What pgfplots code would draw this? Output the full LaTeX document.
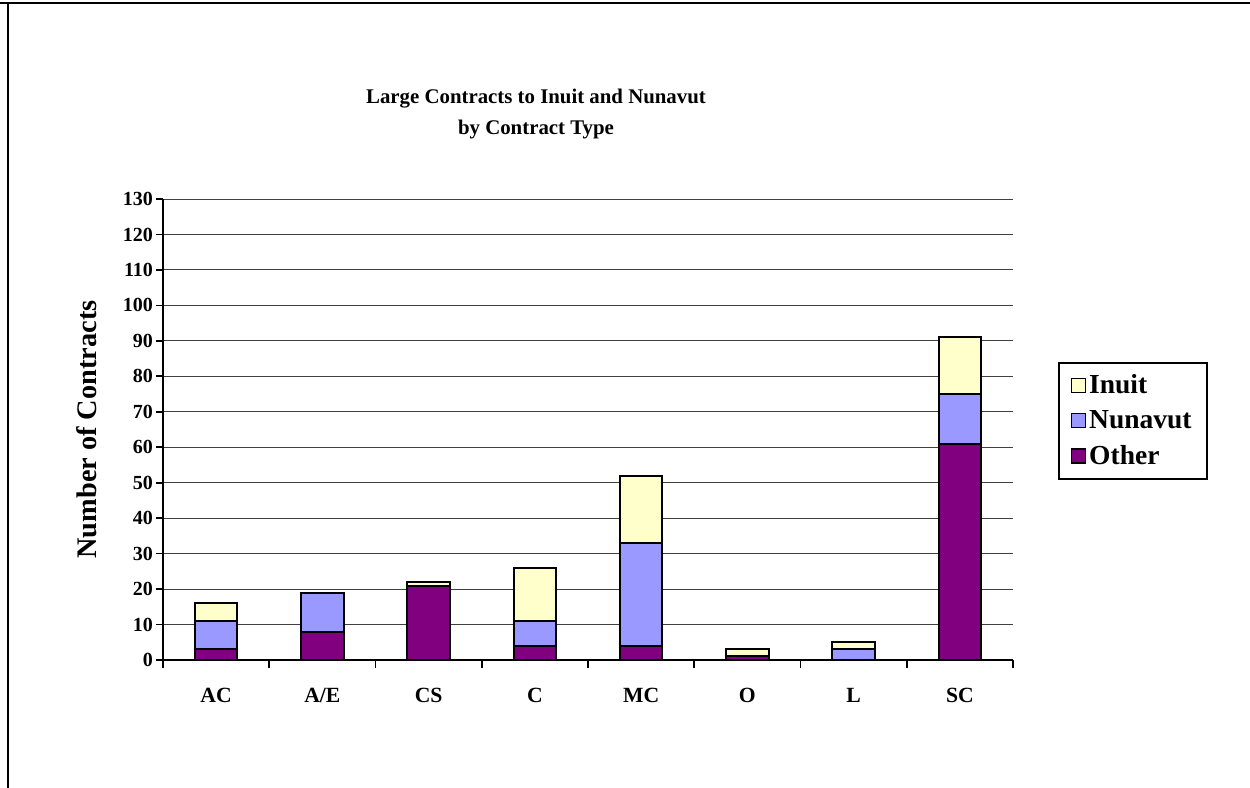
\documentclass[border=0pt]{standalone}
\usepackage{pgfplots}
\pgfplotsset{compat=1.18}
\usepackage{fontspec}
\setmainfont{Liberation Serif}

\definecolor{other}{HTML}{800080}
\definecolor{nunavut}{HTML}{9999FF}
\definecolor{inuit}{HTML}{FFFFCC}

\begin{document}
\begin{tikzpicture}[x=0.6pt,y=0.6pt]
% page = 1250x788 px, origin at lower left of the plot area (px 163,660)
\path[use as bounding box] (-163,-128) rectangle (1087,660);
\draw[line width=1.6pt] (-163,657) -- (1087,657);
\draw[line width=0.8pt] (-155,657) -- (-155,-128);

\node[font=\fontsize{12.5}{19}\selectfont\bfseries, align=center] at (373,546)
  {Large Contracts to Inuit and Nunavut\\by Contract Type};

\begin{axis}[
    at={(0,0)}, anchor=south west,
    scale only axis,
    width=510pt, height=276.6pt,
    ybar stacked,
    bar width=25.5pt,
    xmin=0.5, xmax=8.5,
    ymin=0, ymax=130,
    ytick={0,10,...,130},
    xtick={1,...,8},
    xticklabels={AC,A/E,CS,C,MC,O,L,SC},
    minor xtick={0.5,1.5,...,8.5},
    major x tick style={draw=none},
    minor x tick style={black, line width=1pt},
    y tick style={black, line width=1pt},
    tick align=outside,
    major tick length=4pt,
    minor tick length=4.5pt,
    axis x line*=bottom,
    axis y line*=left,
    axis line style={line width=1.2pt},
    ymajorgrids,
    grid style={black!75, line width=0.6pt},
    ticklabel style={font=\fontsize{12}{14}\selectfont\bfseries},
    yticklabel style={xshift=1.5pt},
    /pgf/number format/assume math mode=true,
    xticklabel style={yshift=-9.5pt, font=\fontsize{13}{15}\selectfont\bfseries},
    ylabel={Number of Contracts},
    ylabel style={font=\fontsize{17}{20}\selectfont\bfseries,
                  at={(axis description cs:-0.0894,0.5)}, anchor=center},
    legend style={at={(axis description cs:1.053,0.646)}, anchor=north west,
                  draw=black, line width=1.2pt,
                  font=\fontsize{16.5}{19}\selectfont\bfseries,
                  row sep=4.5pt, inner xsep=7pt, inner ysep=5pt,
                  cells={anchor=west}},
    legend image code/.code={\draw[#1, draw=black, line width=0.7pt]
                  (2.5pt,-4.2pt) rectangle (10.9pt,4.2pt);},
    reverse legend,
    every axis plot/.append style={draw=black, line width=1.2pt},
]
\addplot[fill=other] coordinates {(1,3) (2,8) (3,21) (4,4) (5,4) (6,1) (7,0) (8,61)};
\addplot[fill=nunavut] coordinates {(1,8) (2,11) (3,0) (4,7) (5,29) (6,0) (7,3) (8,14)};
\addplot[fill=inuit] coordinates {(1,5) (2,0) (3,1) (4,15) (5,19) (6,2) (7,2) (8,16)};
\legend{Other,Nunavut,Inuit}
\end{axis}
\end{tikzpicture}
\end{document}
